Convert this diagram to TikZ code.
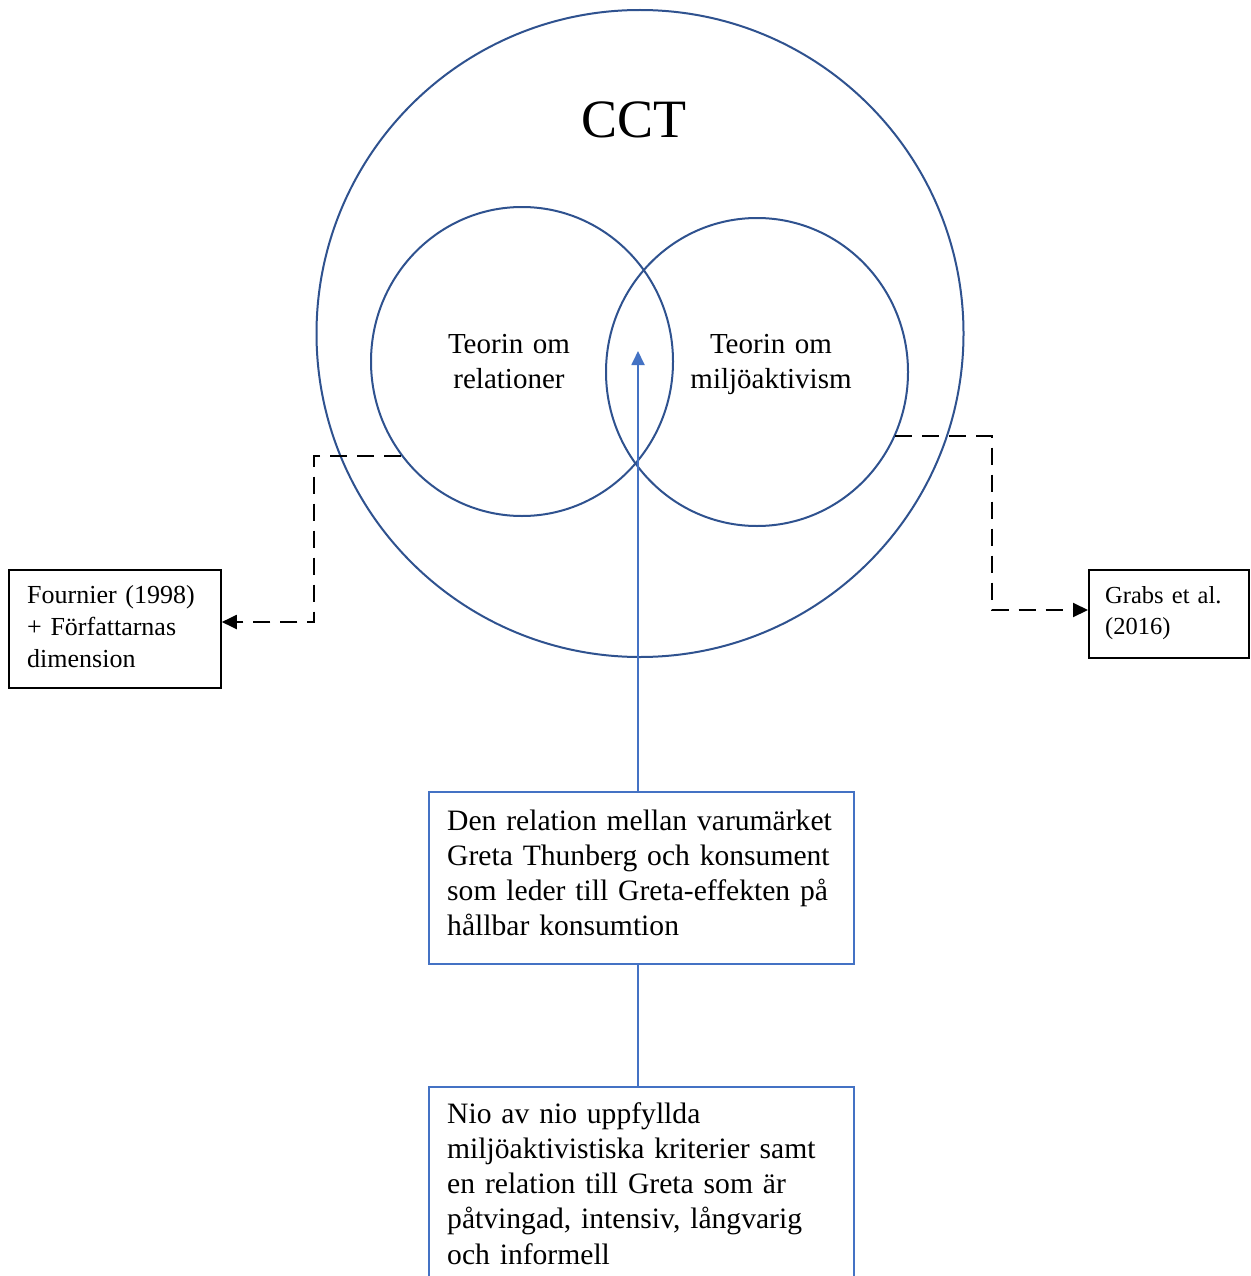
\documentclass[tikz,border=0pt]{standalone}
\usepackage{fontspec}
\setmainfont{Liberation Serif}
\usetikzlibrary{shapes.geometric,arrows.meta}
\definecolor{ringblue}{HTML}{2F528F}
\definecolor{lineblue}{HTML}{4472C4}
\begin{document}
\begin{tikzpicture}[x=1pt,y=-1pt,
  ring/.style={ellipse, draw=ringblue, line width=2pt, inner sep=0pt},
  bluebox/.style={rectangle, draw=lineblue, line width=1.8pt, inner sep=0pt, anchor=north west},
  refbox/.style={rectangle, draw=black, line width=1.8pt, inner sep=0pt, anchor=north west},
  bodytext/.style={inner sep=0pt, anchor=base west, align=left, text width=400pt,
    font=\fontsize{29.6}{35.3}\selectfont},
  reftext/.style={inner sep=0pt, anchor=base west, align=left, text width=190pt},
  theorytext/.style={inner sep=0pt, anchor=base, align=center, text width=220pt,
    font=\fontsize{29}{35}\selectfont},
  dashconn/.style={draw=black, line width=2pt, dash pattern=on 17pt off 10pt,
    -{Triangle[length=15pt,width=14pt]}},
  bluelink/.style={draw=lineblue, line width=1.8pt}
]
\useasboundingbox (0,0) rectangle (1250,1276);
\fill[white] (0,0) rectangle (1250,1276);
\clip (0,0) rectangle (1250,1276);

% Rings
\node[ring, minimum width=647pt, minimum height=647pt] (C) at (640,333.5) {};
\node[ring, minimum width=302pt, minimum height=309pt] (L) at (522,361.5) {};
\node[ring, minimum width=302pt, minimum height=308pt] (R) at (757,372) {};

\node[inner sep=0pt, anchor=base, font=\fontsize{54}{60}\selectfont] (cct) at (634,138) {CCT};
\node[theorytext] (lt) at (509,353) {Teorin om\\relationer};
\node[theorytext] (rt) at (771,353) {Teorin om\\miljöaktivism};

% Boxes
\node[bluebox, minimum width=425pt, minimum height=172pt] (b1) at (428,791) {};
\node[bodytext] (b1t) at (447,830) {Den relation mellan varumärket\\Greta Thunberg och konsument\\som leder till Greta-effekten på\\hållbar konsumtion};

\node[bluebox, minimum width=425pt, minimum height=215pt] (b2) at (428,1086) {};
\node[bodytext] (b2t) at (447,1123) {Nio av nio uppfyllda\\miljöaktivistiska kriterier samt\\en relation till Greta som är\\påtvingad, intensiv, långvarig\\och informell};

\node[refbox, minimum width=212pt, minimum height=118pt] (F) at (8,569) {};
\node[reftext, font=\fontsize{26}{32}\selectfont] (Ft) at (27,603) {Fournier (1998)\\+ Författarnas\\dimension};

\node[refbox, minimum width=160pt, minimum height=88pt] (G) at (1088,569) {};
\node[reftext, font=\fontsize{24.5}{31}\selectfont] (Gt) at (1105,603) {Grabs et al.\\(2016)};

% Connectors
\coordinate (tip) at (638,351);
\draw[bluelink, -{Triangle[length=14pt,width=13pt]}] (tip |- b1.north) -- (tip);
\draw[bluelink] (tip |- b1.south) -- (tip |- b2.north);

\draw[dashconn] (L.218) -| (314,622) -- (F.east |- 314,622);
\draw[dashconn] (R.-25) -| (992,610) -- (G.west |- 992,610);
\end{tikzpicture}
\end{document}
